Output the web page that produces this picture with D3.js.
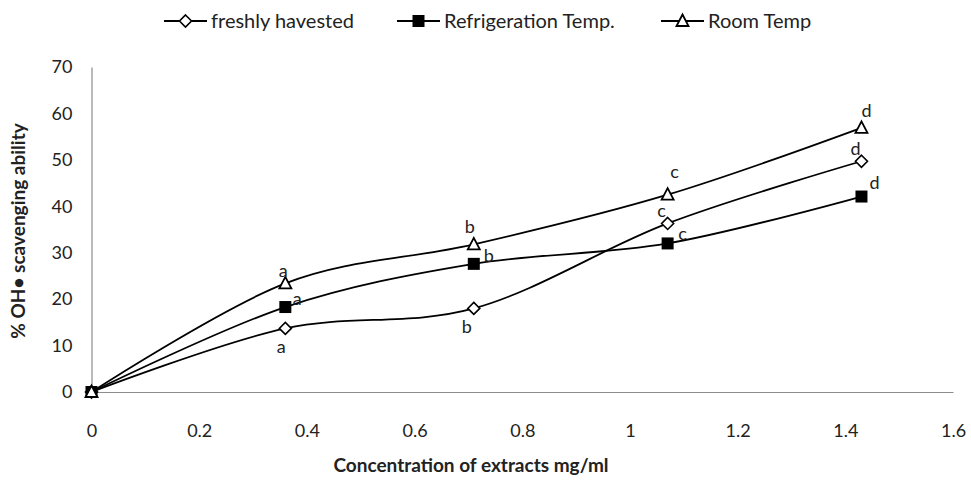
<!DOCTYPE html>
<html><head><meta charset="utf-8">
<script src="https://cdn.jsdelivr.net/npm/d3@7"></script>
<style>body{margin:0;background:#fff}svg{display:block}text{font-family:Lato,"Open Sans",sans-serif;fill:#222}</style>
</head><body><svg id="c" width="971" height="481"></svg>
<script>
const concentrations = [0, 0.36, 0.71, 1.07, 1.43];
const freshly = [0, 13.7, 18.0, 36.3, 49.7];
const refrigeration = [0, 18.3, 27.6, 32.0, 42.1];
const room = [0, 23.4, 31.8, 42.5, 56.9];
const freshlyLetters = ["", "a", "b", "c", "d"];
const refrigerationLetters = ["", "a", "b", "c", "d"];
const roomLetters = ["", "a", "b", "c", "d"];
const seriesNames = ["freshly havested", "Refrigeration Temp.", "Room Temp"];
const xTicks = [0, 0.2, 0.4, 0.6, 0.8, 1, 1.2, 1.4, 1.6];
const yTicks = [0, 10, 20, 30, 40, 50, 60, 70];

const svg = d3.select("#c");
const x = d3.scaleLinear().domain([0, 1.6]).range([91.5, 953]);
const y = d3.scaleLinear().domain([0, 70]).range([392, 67]);

// axes
const xAxis = svg.append("g").attr("transform", "translate(0,392)")
  .call(d3.axisBottom(x).tickValues(xTicks).tickSize(0).tickPadding(39).tickFormat(d => String(d)));
const yAxis = svg.append("g").attr("transform", "translate(91.5,0)")
  .call(d3.axisLeft(y).tickValues(yTicks).tickSize(0).tickPadding(19));
[xAxis, yAxis].forEach(a => {
  a.select(".domain").attr("stroke", "#8c8c8c").attr("stroke-width", 1.2);
  a.selectAll("text").attr("font-size", 18).attr("fill", "#404040").style("font-family", "Lato");
});
xAxis.selectAll("text").attr("dy", "0.35em");

svg.append("text").attr("x", 471).attr("y", 472).attr("text-anchor", "middle")
  .attr("font-size", 19).attr("font-weight", "bold").text("Concentration of extracts mg/ml");
svg.append("text").attr("transform", "translate(25,231) rotate(-90)").attr("text-anchor", "middle")
  .attr("font-size", 19).attr("font-weight", "bold").text("% OH\u2022 scavenging ability");

const line = d3.line().x((d, i) => x(concentrations[i])).y(d => y(d)).curve(d3.curveCatmullRom.alpha(0));

const series = [
  {name: seriesNames[0], values: freshly, letters: freshlyLetters, marker: "diamond",
   off: [[0,0],[-4,18],[-7,18],[-6,-13],[-6,-13]]},
  {name: seriesNames[1], values: refrigeration, letters: refrigerationLetters, marker: "square",
   off: [[0,0],[12,-8],[15,-8],[15,-10],[13,-14]]},
  {name: seriesNames[2], values: room, letters: roomLetters, marker: "triangle",
   off: [[0,0],[-2,-13],[-4,-18],[7,-23],[5,-17]]}
];

function drawMarker(g, type, cx, cy) {
  if (type === "diamond") {
    g.append("path").attr("d", `M${cx},${cy-6}L${cx+6},${cy}L${cx},${cy+6}L${cx-6},${cy}Z`)
      .attr("fill", "#fff").attr("stroke", "#000").attr("stroke-width", 1.6);
  } else if (type === "square") {
    g.append("rect").attr("x", cx-6).attr("y", cy-6).attr("width", 12).attr("height", 12)
      .attr("fill", "#000");
  } else {
    g.append("path").attr("d", `M${cx},${cy-6.5}L${cx+6},${cy+5}L${cx-6},${cy+5}Z`)
      .attr("fill", "#fff").attr("stroke", "#000").attr("stroke-width", 1.8);
  }
}

const plot = svg.append("g");
series.forEach(s => {
  plot.append("path").attr("d", line(s.values)).attr("fill", "none").attr("stroke", "#000").attr("stroke-width", 1.8);
});
series.forEach(s => {
  const g = plot.append("g");
  s.values.forEach((v, i) => drawMarker(g, s.marker, x(concentrations[i]), y(v)));
  s.values.forEach((v, i) => {
    if (!s.letters[i]) return;
    g.append("text").attr("x", x(concentrations[i]) + s.off[i][0]).attr("y", y(v) + s.off[i][1])
      .attr("text-anchor", "middle").attr("dy", "0.35em").attr("font-size", 18).attr("fill", "#404040").text(s.letters[i]);
  });
});

// legend
const legendX = [164, 397, 661];
series.forEach((s, i) => {
  const g = svg.append("g");
  g.append("line").attr("x1", legendX[i]).attr("x2", legendX[i] + 43).attr("y1", 21).attr("y2", 21)
    .attr("stroke", "#000").attr("stroke-width", 1.8);
  drawMarker(g, s.marker, legendX[i] + 21.5, 21);
  g.append("text").attr("x", legendX[i] + 47).attr("y", 21).attr("dy", "0.35em")
    .attr("font-size", 20).attr("fill", "#222").text(s.name);
});
</script></body></html>
